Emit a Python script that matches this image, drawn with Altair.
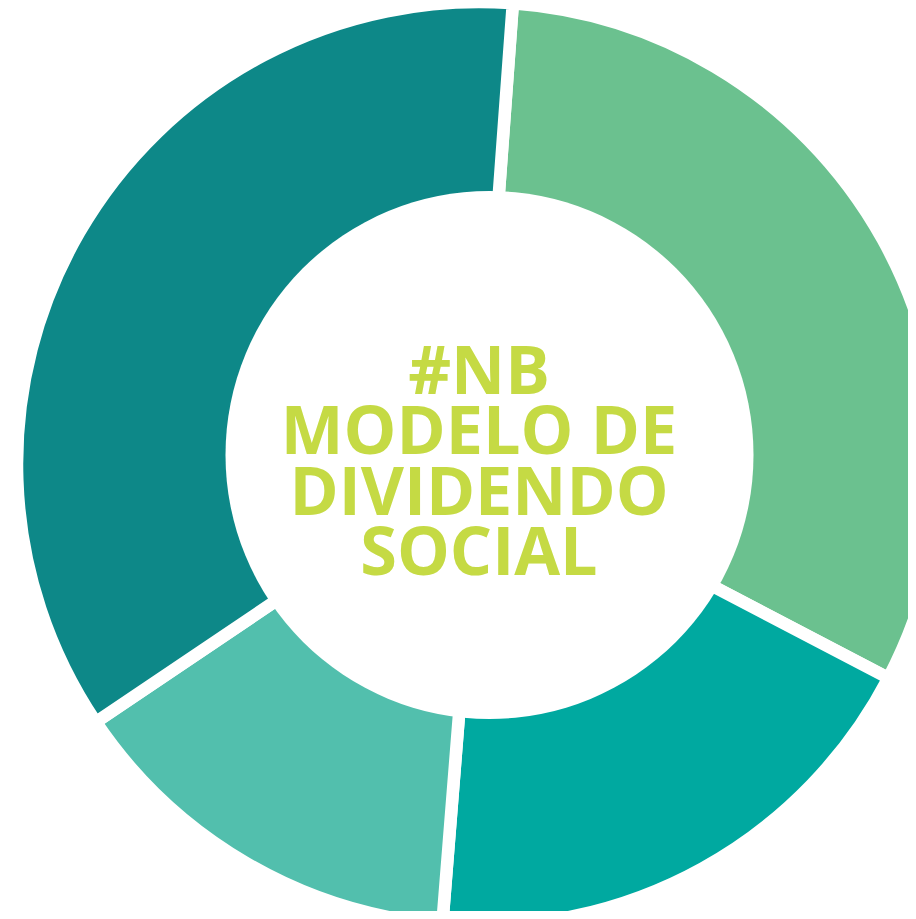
import math
import altair as alt
import pandas as pd

# Data
segments = ["A", "B", "C", "D"]
values = [31.5, 18.6, 14.3, 35.6]
colors = ["#6BC18F", "#00A9A0", "#52BFAD", "#0D8888"]
center_lines = ["#NB", "MODELO DE", "DIVIDENDO", "SOCIAL"]

df = pd.DataFrame({"seg": segments, "value": values, "order": list(range(len(segments)))})
one = pd.DataFrame({"k": [0]})

start = math.radians(4.2)

pie = alt.Chart(df).mark_arc(
    outerRadius=462, stroke="white", strokeWidth=12.5
).encode(
    theta=alt.Theta("value:Q", stack=True, scale=alt.Scale(range=[start, start + 2 * math.pi])),
    color=alt.Color("seg:N", scale=alt.Scale(domain=segments, range=colors), legend=None),
    order=alt.Order("order:Q"),
    x=alt.value(471),
    y=alt.value(456),
)

hole = alt.Chart(one).mark_arc(
    theta=0, theta2=2 * math.pi, outerRadius=264, color="white"
).encode(
    x=alt.value(481.5),
    y=alt.value(447),
)

label = alt.Chart(one).mark_text(
    text=center_lines,
    font="Open Sans",
    fontWeight="bold",
    fontSize=66.5,
    lineHeight=60.3,
    align="center",
    baseline="alphabetic",
    color="#C5DA44",
).encode(
    x=alt.value(471),
    y=alt.value(386),
)

chart = alt.layer(pie, hole, label).properties(
    width=900, height=903, padding=0, autosize=alt.AutoSizeParams(type="none")
).configure_view(stroke=None)

chart.save("out.html", embed_options={"renderer": "svg", "actions": False})
